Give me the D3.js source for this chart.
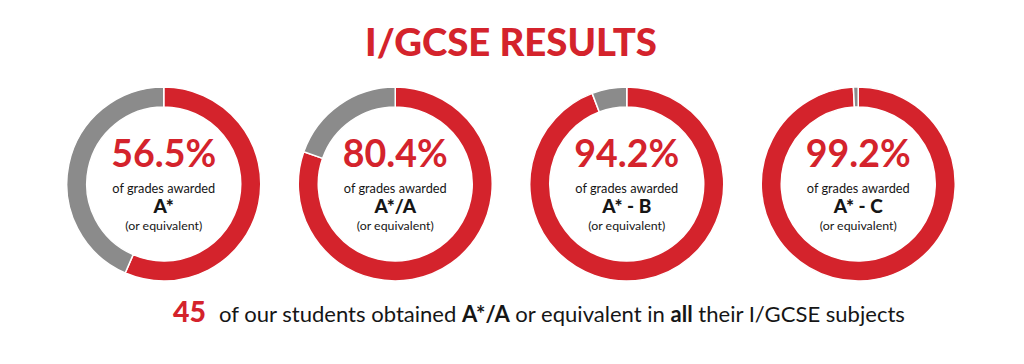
<!DOCTYPE html>
<html>
<head>
<meta charset="utf-8">
<script src="https://cdn.jsdelivr.net/npm/d3@7"></script>
<style>
html,body{margin:0;padding:0;background:#fff;}
svg{display:block;}
text,tspan{white-space:pre;}
</style>
</head>
<body>
<svg id="chart" width="1024" height="364"></svg>
<script>
const title = "I/GCSE RESULTS";
const categories = ["A*", "A*/A", "A* - B", "A* - C"];
const values = [56.5, 80.4, 94.2, 99.2];
const subLine = "of grades awarded";
const noteLine = "(or equivalent)";
const footNumber = "45";
const footParts = [
  {t: "of our students obtained ", b: false},
  {t: "A*/A", b: true},
  {t: " or equivalent in ", b: false},
  {t: "all", b: true},
  {t: " their I/GCSE subjects", b: false}
];

const RED = "#d4232c", GREY = "#8b8b8b", INK = "#161616";
const FONT = "Lato, 'Open Sans', sans-serif";

const svg = d3.select("#chart");

function fitWidth(sel, w) {
  const n = sel.node();
  const cur = n.getComputedTextLength();
  const fs = parseFloat(sel.attr("font-size"));
  sel.attr("font-size", fs * w / cur);
}

// title
const t = svg.append("text").text(title)
  .attr("x", 511).attr("y", 56).attr("text-anchor", "middle")
  .attr("font-family", FONT).attr("font-weight", 900)
  .attr("font-size", 33).attr("fill", RED);
fitWidth(t, 292);

const x = d3.scaleBand().domain(categories).range([48, 974]);
const cy = 184;
const pie = d3.pie().sort(null).value(d => d);
const arc = d3.arc().innerRadius(77).outerRadius(97);

const g = svg.selectAll("g.donut").data(categories).join("g")
  .attr("class", "donut")
  .attr("transform", d => `translate(${x(d) + x.bandwidth() / 2},${cy})`);

g.each(function(cat, i) {
  const v = values[i];
  const el = d3.select(this);
  el.selectAll("path").data(pie([v, 100 - v])).join("path")
    .attr("d", arc)
    .attr("fill", (d, j) => j === 0 ? RED : GREY)
    .attr("stroke", "#fff").attr("stroke-width", 1.5);

  const pct = el.append("text").text(d3.format(".1f")(v) + "%")
    .attr("x", 0).attr("y", -17).attr("text-anchor", "middle")
    .attr("font-family", FONT).attr("font-weight", 700)
    .attr("font-size", 31).attr("fill", RED);
  fitWidth(pct, 105);

  const s = el.append("text").text(subLine)
    .attr("x", 0).attr("y", 9).attr("text-anchor", "middle")
    .attr("font-family", FONT).attr("font-weight", 400)
    .attr("font-size", 13).attr("fill", INK);
  fitWidth(s, 103);
  el.append("text").text(cat)
    .attr("x", 0).attr("y", 29).attr("text-anchor", "middle")
    .attr("font-family", FONT).attr("font-weight", 900)
    .attr("font-size", 19).attr("fill", INK);
  const nt = el.append("text").text(noteLine)
    .attr("x", 0).attr("y", 46).attr("text-anchor", "middle")
    .attr("font-family", FONT).attr("font-weight", 400)
    .attr("font-size", 12).attr("fill", INK);
  fitWidth(nt, 77);
});

// footer number: bold, horizontally condensed to its measured width
const numG = svg.append("g").attr("transform", "translate(173,322)");
const num = numG.append("text").text(footNumber)
  .attr("x", 0).attr("y", 0)
  .attr("font-family", FONT)
  .attr("font-weight", 900).attr("font-size", 28).attr("fill", RED);
const nw = num.node().getComputedTextLength();
num.attr("transform", `scale(${33 / nw},1)`);

const foot = svg.append("text")
  .attr("x", 219).attr("y", 322)
  .attr("font-family", FONT).attr("font-size", 21).attr("fill", INK);
foot.selectAll("tspan").data(footParts).join("tspan")
  .text(d => d.t).attr("font-weight", d => d.b ? 700 : 400);
fitWidth(foot, 905 - 219);
</script>
</body>
</html>
